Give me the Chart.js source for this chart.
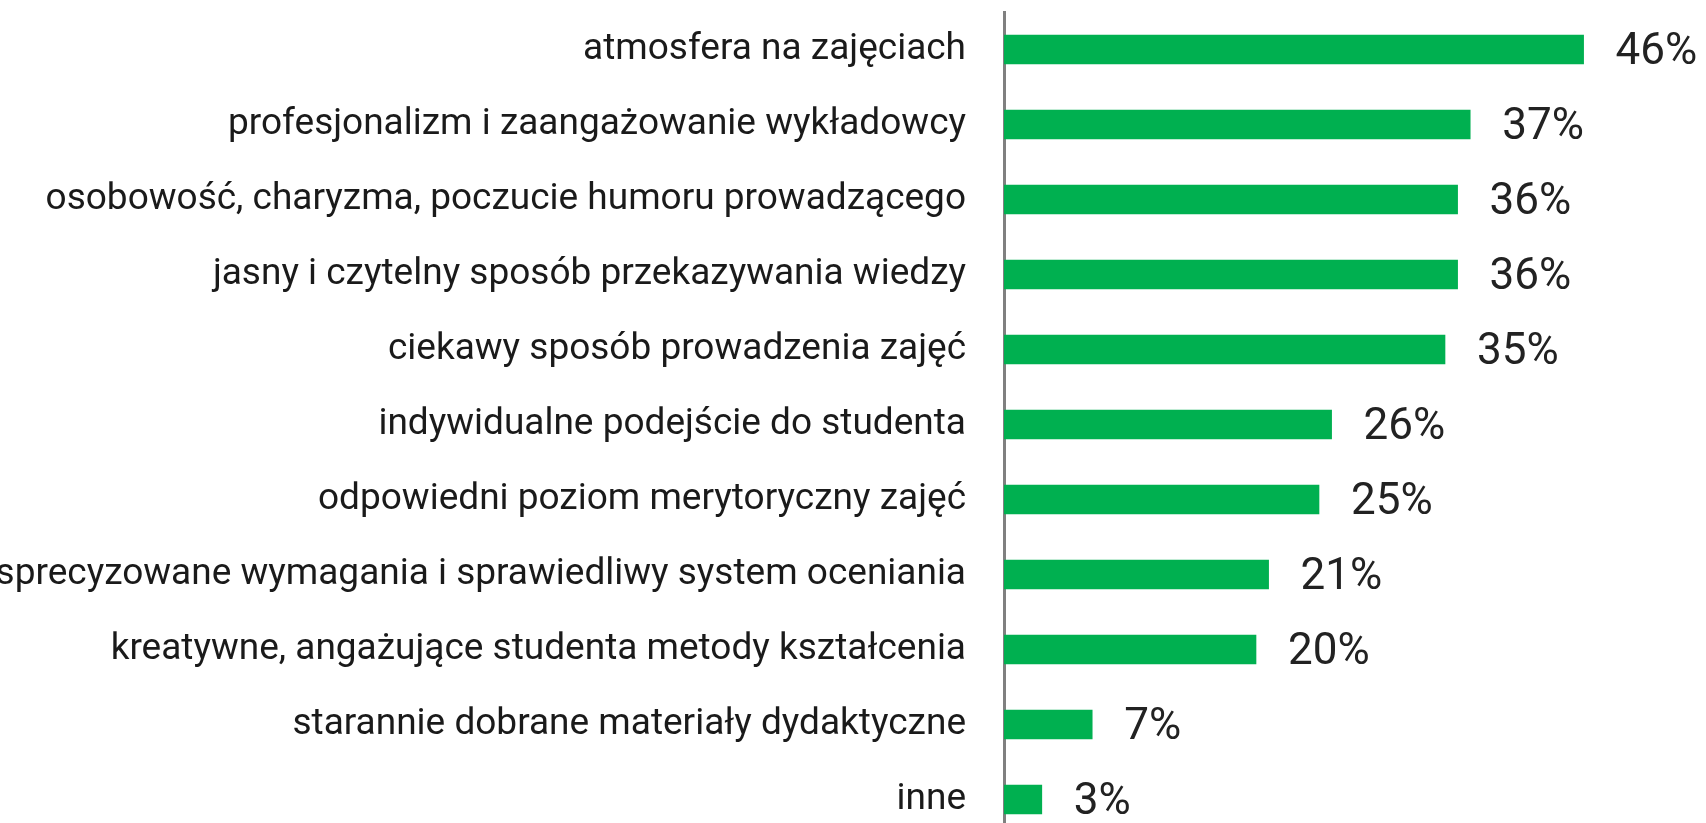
<!DOCTYPE html>
<html>
<head>
<meta charset="utf-8">
<script src="https://cdn.jsdelivr.net/npm/chart.js@4.4.1/dist/chart.umd.min.js"></script>
<style>
  html, body { margin: 0; padding: 0; background: #ffffff; overflow: hidden; }
  #wrap { position: absolute; left: 0; top: 0; width: 1706px; height: 847px; }
</style>
</head>
<body>
<div id="wrap"><canvas id="c" width="1706" height="847"></canvas></div>
<script>
const categories = [
  "atmosfera na zajęciach",
  "profesjonalizm i zaangażowanie wykładowcy",
  "osobowość, charyzma, poczucie humoru prowadzącego",
  "jasny i czytelny sposób przekazywania wiedzy",
  "ciekawy sposób prowadzenia zajęć",
  "indywidualne podejście do studenta",
  "odpowiedni poziom merytoryczny zajęć",
  "sprecyzowane wymagania i sprawiedliwy system oceniania",
  "kreatywne, angażujące studenta metody kształcenia",
  "starannie dobrane materiały dydaktyczne",
  "inne"
];
const values = [46, 37, 36, 36, 35, 26, 25, 21, 20, 7, 3];
const valueLabels = ["46%", "37%", "36%", "36%", "35%", "26%", "25%", "21%", "20%", "7%", "3%"];

const valueLabelPlugin = {
  id: 'valueLabels',
  afterDatasetsDraw(chart) {
    const ctx = chart.ctx;
    const meta = chart.getDatasetMeta(0);
    ctx.save();
    ctx.font = '44px Roboto';
    ctx.fillStyle = '#222222';
    ctx.textAlign = 'left';
    ctx.textBaseline = 'middle';
    meta.data.forEach((bar, i) => {
      ctx.fillText(valueLabels[i], bar.x + 32, bar.y + 3);
    });
    ctx.restore();
  }
};

new Chart(document.getElementById('c'), {
  type: 'bar',
  data: {
    labels: categories,
    datasets: [{
      data: values,
      backgroundColor: '#00B050',
      borderWidth: 0,
      barThickness: 29
    }]
  },
  options: {
    indexAxis: 'y',
    responsive: false,
    animation: false,
    layout: { padding: { top: 12, bottom: 10, left: 0, right: 9 } },
    plugins: {
      legend: { display: false },
      tooltip: { enabled: false },
      title: { display: false }
    },
    scales: {
      x: {
        display: false,
        min: 0,
        max: 55
      },
      y: {
        afterFit(scale) {
          scale.width = 1004;
          scale.paddingTop = 0;
          scale.paddingBottom = 0;
        },
        grid: { display: true, drawOnChartArea: false, drawTicks: false, color: 'rgba(0,0,0,0)' },
        border: { display: true, color: '#808080', width: 3 },
        ticks: {
          padding: 38,
          color: '#1a1a1a',
          font: { family: 'Roboto', size: 37 },
          autoSkip: false
        }
      }
    }
  },
  plugins: [valueLabelPlugin]
});
</script>
</body>
</html>
